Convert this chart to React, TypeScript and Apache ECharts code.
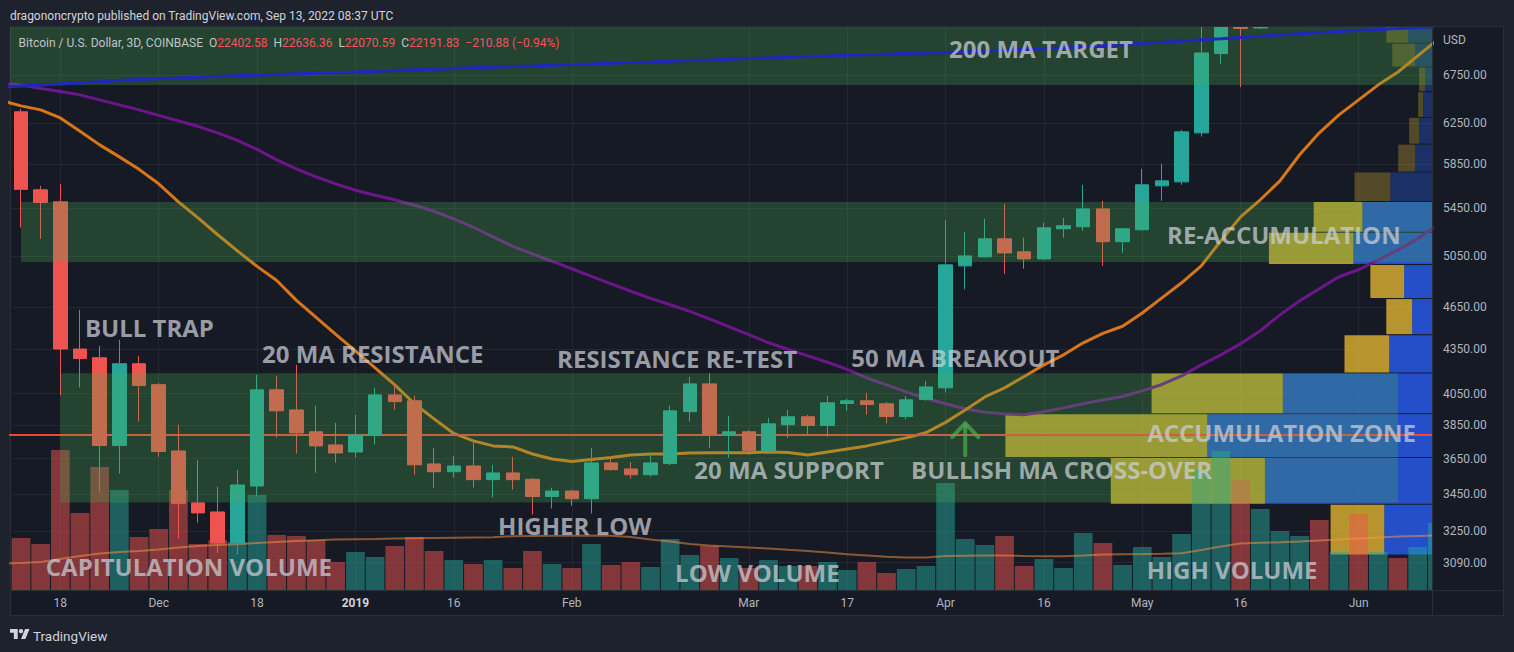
import React, { useEffect, useRef } from 'react';
import * as echarts from 'echarts';

// ---------- candle data (3D candles, index 0 = mid Nov 2018) ----------
const opens = [6361,5614,5507,4350,4290,3727,4249,4109,3695,3400,3351,3188,3493,4075,3946,3810,3731,3689,3787,4042,4004,3619,3574,3607,3529,3567,3531,3435,3465,3423,3625,3590,3557,3621,3935,4114,3794,3810,3697,3853,3903,3849,3987,4004,3985,3904,4012,4088,4970,5042,5190,5083,5026,5274,5291,5445,5166,5266,5650,5686,6150,6983,8200,7275,7960,8000,8750,8270,8730,7800,7990,7920,8660];
const closes = [5618,5501,4350,4285,3727,4249,4103,3692,3396,3346,3188,3499,4075,3940,3803,3725,3683,3791,4042,3999,3614,3574,3607,3529,3567,3529,3435,3465,3423,3625,3586,3557,3625,3940,4114,3795,3810,3697,3859,3903,3849,3991,4004,3980,3904,4010,4094,4978,5050,5190,5074,5026,5283,5300,5445,5166,5274,5659,5695,6160,6990,8200,7270,7980,8000,8750,8270,8730,7800,7990,7920,8660,9340];
const lows = [5285,5190,4040,4092,3458,3563,3873,3661,3210,3294,3138,3130,3438,3775,3680,3568,3626,3655,3733,3948,3557,3484,3540,3484,3429,3473,3337,3369,3385,3342,3580,3534,3546,3612,3873,3715,3655,3673,3690,3773,3795,3781,3942,3916,3861,3886,4005,4058,4786,5037,4907,4947,5018,5199,5257,4970,5074,5260,5516,5659,6114,6868,6618,7260,7500,7950,8000,8050,7450,7500,7530,7900,8600];
const highs = [6391,5650,5668,4632,4373,4415,4303,4120,3853,3642,3488,3584,4173,4167,4241,3972,3865,3915,4088,4120,4036,3713,3666,3763,3613,3660,3539,3484,3473,3713,3654,3630,3678,3972,4160,4187,3909,3822,3896,3946,3915,4036,4017,4055,3998,4036,4134,5350,5249,5358,5490,5199,5325,5367,5659,5516,5283,5806,5853,6180,7450,8350,8300,8100,8150,8900,9100,8800,8780,8100,8080,8680,9400];
// volume, thousand BTC
const volumes = [52,46,140,77,123,100,53,61,100,46,50,48,95,55,54,50,28,38,33,44,53,39,30,26,30,22,39,26,22,46,25,28,23,51,35,44,32,22,30,24,24,28,20,28,17,21,24,107,51,45,54,24,31,22,57,47,25,43,33,56,120,139,110,81,59,54,70,38,76,38,32,43,67];
// indicator series start one candle earlier (index -1) than the first visible candle
const maFirstIndex = -1;
const volumeMA = [26.5,27,28,31,34,36.5,38,39,40.5,42.5,44,45,45.7,47,48,49,49.8,50.5,50.8,51,51.4,51.7,52,52.3,52.5,52.7,53.8,54,54.2,54.3,54.5,54.2,53,50.5,48.5,46,44.5,43.5,42.5,41.5,40.2,39,37.5,35.7,34.5,33.3,32.5,32.5,33.9,34.2,34.4,34.5,34,33.7,33.7,34.5,35.5,35.8,36,36.3,36.7,40,43.5,46.5,47.2,47.8,48.5,49.5,50.5,51.5,52.5,53.5,54,54.5];
const ma20 = [6476,6422,6381,6299,6165,6033,5918,5801,5668,5507,5367,5224,5091,4966,4855,4703,4576,4453,4338,4221,4107,3985,3890,3800,3755,3725,3719,3677,3648,3633,3645,3657,3671,3677,3677,3683,3685,3685,3685,3689,3686,3671,3689,3707,3725,3749,3773,3804,3868,3946,4029,4088,4163,4241,4310,4394,4461,4512,4609,4722,4837,4970,5174,5376,5525,5695,5938,6151,6330,6484,6642,6780,6957,7137];
const ma50 = [6659,6641,6604,6572,6536,6484,6432,6381,6325,6269,6215,6150,6077,5990,5890,5806,5732,5668,5610,5565,5525,5477,5424,5359,5287,5207,5128,5067,5006,4947,4887,4829,4772,4718,4670,4621,4565,4507,4451,4394,4348,4303,4259,4211,4153,4107,4062,4020,3985,3953,3931,3921,3915,3934,3959,3985,4010,4032,4068,4110,4167,4241,4310,4387,4479,4595,4699,4791,4884,4939,5018,5099,5190,5308];
const ma200 = [6618,6629,6640,6651,6661,6674,6687,6698,6706,6715,6722,6730,6738,6745,6753,6760,6767,6773,6780,6787,6795,6803,6810,6818,6826,6832,6839,6845,6853,6861,6867,6875,6883,6889,6897,6905,6911,6919,6927,6934,6941,6949,6957,6965,6969,6976,6983,6989,6995,7003,7012,7021,7029,7037,7048,7059,7072,7084,7098,7111,7125,7139,7152,7166,7180,7194,7208,7220,7233,7246,7257,7268,7278,7289];

// axes
const priceTicks = [6750, 6250, 5850, 5450, 5050, 4650, 4350, 4050, 3850, 3650, 3450, 3250, 3090];
const timeTickIndex = [2, 7, 12, 17, 22, 28, 37, 42, 47, 52, 57, 62, 68];
const timeTickLabels = ['18', 'Dec', '18', '2019', '16', 'Feb', 'Mar', '17', 'Apr', '16', 'May', '16', 'Jun'];
const priceMin = 2957.2;
const priceMax = 7286.6;
const xMin = -0.56;
const xMax = 71.73;

// volume profile (visible range)
const vpLow = [3130,3395,3660,3925,4190,4455,4720,4985,5250,5515,5780,6045,6310,6575,6840,7105];
const vpRowSize = 265;
const vpUp = [48,168,226,150,43,20,28,79,70,42,17,13,9,7,17,24];
const vpDown = [54,155,203,132,45,26,34,85,49,36,17,10,5,6,23,22];
const valueAreaHigh = 5515;

// drawings
const zoneStart = [-2, 0, 2];
const zoneEnd = [90, 90, 70];
const zoneLow = [6640, 5001, 3402];
const zoneHigh = [7800, 5506, 4185];
const hLinePrice = 3790;
const arrowK = [48];
const arrowFrom = [3669];
const arrowTo = [3863];
const annoTexts = ['200 MA TARGET','BULL TRAP','20 MA RESISTANCE','RESISTANCE RE-TEST','50 MA BREAKOUT','RE-ACCUMULATION','ACCUMULATION ZONE','20 MA SUPPORT','BULLISH MA CROSS-OVER','HIGHER LOW','CAPITULATION VOLUME','LOW VOLUME','HIGH VOLUME'];
const annoK = [47.18, 3.25, 12.25, 27.25, 42.21, 58.26, 57.25, 34.23, 45.25, 24.25, 1.26, 33.25, 57.23];
const annoPrice = [7038, 4502, 4322, 4288, 4291, 5230, 3804, 3585, 3585, 3279, 3072, 3041, 3058];

const UP = '#26a69a';
const DOWN = '#ef5350';
const GRID = '#232733';
const PANE = '#161a25';
const OUTER = '#1e222d';
const BORDER = '#2a2e39';
const AXIS_TEXT = '#b2b5be';

function buildOption() {
  const vpMaxTotal = Math.max(...vpUp.map((u, i) => u + vpDown[i]));
  const fmtTime = (v: number) => {
    const i = timeTickIndex.findIndex((t) => Math.abs(t - v) < 0.01);
    if (i < 0) return '';
    const s = timeTickLabels[i];
    return s === '2019' ? '{b|' + s + '}' : s;
  };
  const fmtPrice = (v: number) => {
    let best = priceTicks[0];
    let d = Infinity;
    for (const p of priceTicks) {
      const dd = Math.abs(Math.log(p) - v);
      if (dd < d) { d = dd; best = p; }
    }
    return best.toFixed(2);
  };
  const logTicks = priceTicks.map((p) => Math.log(p));
  const maData = (arr: number[]) => arr.map((v, i) => [i + maFirstIndex, v]);

  return {
    animation: false,
    backgroundColor: OUTER,
    textStyle: { fontFamily: 'Roboto' },
    grid: { left: 10, top: 27, width: 1422, height: 563, show: false },
    xAxis: {
      type: 'value', min: xMin, max: xMax, position: 'bottom',
      axisLine: { show: false },
      axisTick: { show: false, customValues: timeTickIndex },
      axisLabel: {
        customValues: timeTickIndex, formatter: fmtTime, color: AXIS_TEXT, fontSize: 12,
        fontFamily: 'Roboto', margin: 7,
        rich: { b: { fontWeight: 'bold', color: '#d1d4dc', fontSize: 12, fontFamily: 'Roboto' } },
      },
      splitLine: { show: true, lineStyle: { color: GRID, width: 1 } },
    },
    yAxis: [
      { type: 'log', min: priceMin, max: priceMax, show: false, splitLine: { show: false } },
      {
        type: 'value', min: Math.log(priceMin), max: Math.log(priceMax), position: 'right',
        axisLine: { show: false },
        axisTick: { show: false, customValues: logTicks },
        axisLabel: { customValues: logTicks, formatter: fmtPrice, color: AXIS_TEXT, fontSize: 12, fontFamily: 'Roboto', margin: 11 },
        splitLine: { show: true, lineStyle: { color: GRID, width: 1 } },
      },
      { type: 'value', min: 0, max: 563, show: false, splitLine: { show: false } },
    ],
    graphic: [
      { type: 'rect', z: -1, shape: { x: 10.5, y: 26.5, width: 1493, height: 589 }, style: { fill: PANE, stroke: BORDER, lineWidth: 1 } },
      { type: 'rect', z: 100, shape: { x: 0, y: 0, width: 1514, height: 26.5 }, style: { fill: OUTER } },
      { type: 'line', z: 101, shape: { x1: 10, y1: 26.5, x2: 1504, y2: 26.5 }, style: { stroke: BORDER, lineWidth: 1 } },
      { type: 'line', z: 101, shape: { x1: 1432.5, y1: 27, x2: 1432.5, y2: 616 }, style: { stroke: BORDER, lineWidth: 1 } },
      { type: 'line', z: 101, shape: { x1: 10, y1: 590.5, x2: 1504, y2: 590.5 }, style: { stroke: BORDER, lineWidth: 1 } },
      { type: 'text', z: 102, x: 10, y: 15.7, style: { text: 'dragononcrypto published on TradingView.com, Sep 13, 2022 08:37 UTC', fill: '#d1d4dc', font: '12px Roboto', verticalAlign: 'middle' } },
      {
        type: 'text', z: 102, x: 18.6, y: 43.3,
        style: {
          text: '{g|Bitcoin / U.S. Dollar, 3D, COINBASE}  {g|O}{r|22402.58}  {g|H}{r|22636.36}  {g|L}{r|22070.59}  {g|C}{r|22191.83}  {r|\u2212210.88 (\u22120.94%)}',
          font: '12px Roboto', verticalAlign: 'middle',
          rich: { g: { fill: '#c0c3cb', font: '12px Roboto' }, r: { fill: '#f7525f', font: '12px Roboto' } },
        },
      },
      { type: 'text', z: 102, x: 1443, y: 40, style: { text: 'USD', fill: AXIS_TEXT, font: '12px Roboto', verticalAlign: 'middle' } },
      { type: 'tvlogo', z: 102, x: 10, y: 626.8, scaleX: 0.55, scaleY: 0.55, style: { fill: '#d1d4dc' } },
      { type: 'circle', z: 102, shape: { cx: 21, cy: 631.2, r: 2.2 }, style: { fill: '#d1d4dc' } },
      { type: 'text', z: 102, x: 33, y: 635.7, style: { text: 'TradingView', fill: '#d1d4dc', font: '13.5px Roboto', verticalAlign: 'middle' } },
    ],
    series: [
      {
        type: 'custom', name: 'Volume profile', xAxisIndex: 0, yAxisIndex: 0, z: 1, clip: true, silent: true,
        data: vpLow.map((lo, i) => [xMax, lo, lo + vpRowSize, vpUp[i], vpDown[i]]),
        encode: { x: 0, y: [1, 2] },
        renderItem: (params: any, api: any) => {
          const cs = params.coordSys;
          const right = cs.x + cs.width;
          const lo = api.value(1);
          const hi = api.value(2);
          const up = api.value(3);
          const dn = api.value(4);
          const yTop = api.coord([xMax, hi])[1] + 1;
          const yBot = api.coord([xMax, lo])[1];
          const k = (cs.width * 0.3) / vpMaxTotal;
          const inVA = hi <= valueAreaHigh + 0.5;
          const wUp = up * k;
          const wDn = dn * k;
          return {
            type: 'group',
            children: [
              { type: 'rect', shape: { x: right - wUp, y: yTop, width: wUp, height: yBot - yTop }, style: { fill: inVA ? 'rgba(41,98,255,0.75)' : 'rgba(41,98,255,0.3)' } },
              { type: 'rect', shape: { x: right - wUp - wDn, y: yTop, width: wDn, height: yBot - yTop }, style: { fill: inVA ? 'rgba(245,195,50,0.72)' : 'rgba(245,195,50,0.28)' } },
            ],
          };
        },
      },
      {
        type: 'custom', name: 'Volume', xAxisIndex: 0, yAxisIndex: 2, z: 2, clip: true, silent: true,
        data: volumes.map((v, i) => [i, v, closes[i] >= opens[i] ? 1 : 0]),
        encode: { x: 0, y: 1 },
        renderItem: (params: any, api: any) => {
          const top = api.coord([api.value(0), api.value(1)]);
          const bot = api.coord([api.value(0), 0]);
          const w = api.size([1, 0])[0] * 0.95;
          return {
            type: 'rect',
            shape: { x: top[0] - w / 2, y: top[1], width: w, height: bot[1] - top[1] },
            style: { fill: api.value(2) ? 'rgba(38,166,154,0.5)' : 'rgba(239,83,80,0.5)' },
          };
        },
      },
      {
        type: 'line', name: 'Volume MA', xAxisIndex: 0, yAxisIndex: 2, z: 3, symbol: 'none', silent: true,
        data: maData(volumeMA),
        lineStyle: { color: 'rgba(255,150,70,0.5)', width: 2 },
      },
      {
        type: 'line', name: 'MA 50', xAxisIndex: 0, yAxisIndex: 0, z: 3, symbol: 'none', silent: true,
        data: maData(ma50), lineStyle: { color: '#6c168a', width: 3 },
      },
      {
        type: 'line', name: 'MA 20', xAxisIndex: 0, yAxisIndex: 0, z: 3, symbol: 'none', silent: true,
        data: maData(ma20), lineStyle: { color: '#d9761a', width: 3 },
      },
      {
        type: 'line', name: 'Horizontal line', xAxisIndex: 0, yAxisIndex: 0, z: 3, symbol: 'none', silent: true,
        data: [[xMin - 1, hLinePrice], [xMax + 1, hLinePrice]], lineStyle: { color: '#f0463c', width: 2 },
      },
      {
        type: 'candlestick', name: 'BTCUSD', xAxisIndex: 0, yAxisIndex: 0, z: 4, barWidth: 14, silent: true,
        encode: { x: 0, y: [1, 2, 3, 4] },
        data: opens.map((o, i) => [i, o, closes[i], lows[i], highs[i]]),
        itemStyle: { color: UP, color0: DOWN, borderColor: UP, borderColor0: DOWN, borderWidth: 1 },
      },
      {
        type: 'custom', name: 'Zones', xAxisIndex: 0, yAxisIndex: 0, z: 5, clip: true, silent: true,
        data: zoneStart.map((s, i) => [s, zoneEnd[i], zoneLow[i], zoneHigh[i]]),
        encode: { x: [0, 1], y: [2, 3] },
        renderItem: (params: any, api: any) => {
          const p0 = api.coord([api.value(0), api.value(3)]);
          const p1 = api.coord([api.value(1), api.value(2)]);
          return { type: 'rect', shape: { x: p0[0], y: p0[1], width: p1[0] - p0[0], height: p1[1] - p0[1] }, style: { fill: 'rgba(76,175,80,0.28)' } };
        },
      },
      {
        type: 'line', name: 'MA 200', xAxisIndex: 0, yAxisIndex: 0, z: 6, symbol: 'none', silent: true,
        data: maData(ma200), lineStyle: { color: '#1e28be', width: 3 },
      },
      {
        type: 'custom', name: 'Arrow', xAxisIndex: 0, yAxisIndex: 0, z: 6, clip: true, silent: true,
        data: arrowK.map((k, i) => [k, arrowFrom[i], arrowTo[i]]),
        encode: { x: 0, y: [1, 2] },
        renderItem: (params: any, api: any) => {
          const base = api.coord([api.value(0), api.value(1)]);
          const tip = api.coord([api.value(0), api.value(2)]);
          const st = { stroke: 'rgba(76,175,80,0.7)', lineWidth: 4, lineCap: 'round', lineJoin: 'round', fill: null };
          return {
            type: 'group',
            children: [
              { type: 'polyline', shape: { points: [base, [tip[0], tip[1] + 2]] }, style: st },
              { type: 'polyline', shape: { points: [[tip[0] - 13, tip[1] + 14], tip, [tip[0] + 13, tip[1] + 14]] }, style: st },
            ],
          };
        },
      },
      {
        type: 'custom', name: 'Annotations', xAxisIndex: 0, yAxisIndex: 0, z: 7, clip: false, silent: true,
        data: annoK.map((k, i) => [k, annoPrice[i]]),
        encode: { x: 0, y: 1 },
        renderItem: (params: any, api: any) => {
          const p = api.coord([api.value(0), api.value(1)]);
          return {
            type: 'text', x: p[0], y: p[1],
            style: { text: annoTexts[params.dataIndex], fill: 'rgba(205,208,216,0.72)', font: 'bold 24px "Open Sans"', align: 'left', verticalAlign: 'middle' },
          };
        },
      },
    ],
  };
}

export default function App() {
  const ref = useRef<HTMLDivElement>(null);
  useEffect(() => {
    if (!ref.current) return;
    echarts.graphic.registerShape('tvlogo', echarts.graphic.extendPath('M14 22H7V11H0V4h14v18zM28 22h-8l7.5-18h8L28 22z', {}));
    const chart = echarts.init(ref.current, null, { renderer: 'svg' });
    chart.setOption(buildOption() as any);
    return () => chart.dispose();
  }, []);
  return <div ref={ref} style={{ position: 'fixed', left: 0, top: 0, width: 1514, height: 652 }} />;
}
